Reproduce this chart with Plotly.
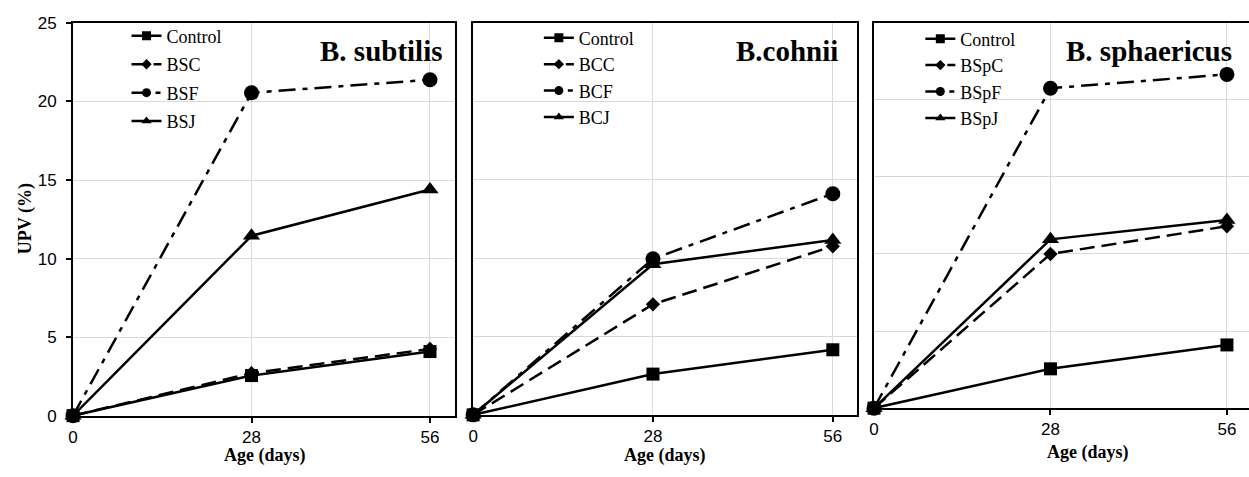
import plotly.graph_objects as go

# Age of specimens (days)
ages = [0, 28, 56]

panel_titles = ["B. subtilis", "B.cohnii", "B. sphaericus"]
series_names = [
    ["Control", "BSC", "BSF", "BSJ"],
    ["Control", "BCC", "BCF", "BCJ"],
    ["Control", "BSpC", "BSpF", "BSpJ"],
]

# UPV (%) for each mix
subtilis_control = [0, 2.55, 4.08]
subtilis_c = [0, 2.7, 4.25]
subtilis_f = [0, 20.55, 21.38]
subtilis_j = [0, 11.45, 14.4]

cohnii_control = [0, 2.6, 4.15]
cohnii_c = [0, 7.05, 10.75]
cohnii_f = [0, 9.95, 14.1]
cohnii_j = [0, 9.6, 11.15]

sphaericus_control = [0, 2.55, 4.1]
sphaericus_c = [0, 10.0, 11.8]
sphaericus_f = [0, 20.75, 21.65]
sphaericus_j = [0, 10.95, 12.2]

panel_values = [
    [subtilis_control, subtilis_c, subtilis_f, subtilis_j],
    [cohnii_control, cohnii_c, cohnii_f, cohnii_j],
    [sphaericus_control, sphaericus_c, sphaericus_f, sphaericus_j],
]

W, H = 1249, 477
SERIF = "Liberation Serif, Times New Roman, serif"
SANS = "Liberation Sans, Arial, sans-serif"

# line style per series position: (dash, marker symbol, plot marker size, legend marker size)
styles = [
    ("solid", "square", 13, 9),
    ("15px,7px", "diamond", 11, 8),
    ("17px,7px,5px,7px", "circle", 15, 9),
    ("solid", "triangle-up", 15, 9),
]

# panel geometry in pixels: (left, right, top, bottom, x max)
panels = [
    (68.3, 452.3, 14.5, 423.5, 60.0),
    (470.0, 855.0, 14.3, 422.7, 59.7),
    (872.5, 1249.0, 14.3, 415.7, 59.5),
]
legend_pos = [(122, 9), (536, 11), (919, 12)]
legend_gap = [2, 0, 0]
title_right = [442, 838, 1234]
xtitle_center = [(261, 465), (663, 465), (1087, 462)]

fig = go.Figure()

for p in range(3):
    ax = "" if p == 0 else str(p + 1)
    leg = "legend" if p == 0 else f"legend{p + 1}"
    for s in range(4):
        dash, sym, size, lsize = styles[s]
        # data line
        fig.add_trace(go.Scatter(
            x=ages, y=panel_values[p][s], name=series_names[p][s],
            mode="lines+markers",
            line=dict(color="black", width=2.5, dash=dash),
            marker=dict(symbol=sym, size=size, color="black"),
            xaxis="x" + ax, yaxis="y" + ax,
            legendgroup=f"g{p}{s}", showlegend=False, cliponaxis=False,
        ))
        # legend key with a smaller marker
        fig.add_trace(go.Scatter(
            x=[None], y=[None], name=series_names[p][s],
            mode="lines+markers",
            line=dict(color="black", width=2.5, dash=dash),
            marker=dict(symbol=sym, size=lsize, color="black"),
            xaxis="x" + ax, yaxis="y" + ax, legend=leg,
            legendgroup=f"g{p}{s}", showlegend=True,
        ))

layout = dict(
    width=W, height=H,
    margin=dict(l=0, r=0, t=0, b=0),
    plot_bgcolor="white", paper_bgcolor="white",
    showlegend=True,
)

annotations = []
for p, (l, r, t, b, xmax) in enumerate(panels):
    ax = "" if p == 0 else str(p + 1)
    layout["xaxis" + ax] = dict(
        domain=[l / W, r / W], range=[0, xmax], anchor="y" + ax,
        tickvals=ages, ticktext=[str(a) for a in ages],
        ticks="outside", ticklen=5, tickwidth=1.5, tickcolor="black",
        tickfont=dict(family=SANS, size=17, color="black"),
        showgrid=True, gridcolor="#d9d9d9", gridwidth=1.3,
        showline=True, linecolor="black", linewidth=1.8, mirror=True,
        zeroline=False, fixedrange=True,
    )
    layout["yaxis" + ax] = dict(
        domain=[1 - b / H, 1 - t / H], range=[0, 25], anchor="x" + ax,
        tickvals=[0, 5, 10, 15, 20, 25],
        showticklabels=(p == 0),
        ticks="outside" if p == 0 else "", ticklen=5, tickwidth=1.5, tickcolor="black",
        tickfont=dict(family=SANS, size=17, color="black"),
        ticklabelstandoff=6,
        showgrid=True, gridcolor="#d9d9d9", gridwidth=1.3,
        showline=True, linecolor="black", linewidth=1.8, mirror=(p < 2),
        zeroline=False, fixedrange=True,
    )
    leg = "legend" if p == 0 else f"legend{p + 1}"
    lx, ly = legend_pos[p]
    layout[leg] = dict(
        x=lx / W, y=1 - ly / H, xanchor="left", yanchor="top",
        font=dict(family=SERIF, size=18, color="black"),
        bgcolor="rgba(0,0,0,0)", borderwidth=0,
        traceorder="grouped", tracegroupgap=legend_gap[p],
        itemsizing="trace",
    )
    annotations.append(dict(
        text=f"<b>{panel_titles[p]}</b>", xref="paper", yref="paper",
        x=title_right[p] / W, y=1 - 44 / H, xanchor="right", yanchor="middle",
        showarrow=False, font=dict(family=SERIF, size=29, color="black"),
    ))
    cx, cy = xtitle_center[p]
    annotations.append(dict(
        text="<b>Age (days)</b>", xref="paper", yref="paper",
        x=cx / W, y=1 - cy / H, xanchor="center", yanchor="middle",
        showarrow=False, font=dict(family=SERIF, size=18, color="black"),
    ))

annotations.append(dict(
    text="<b>UPV (%)</b>", xref="paper", yref="paper",
    x=20 / W, y=1 - 218 / H, xanchor="center", yanchor="middle",
    textangle=-90, showarrow=False,
    font=dict(family=SERIF, size=18, color="black"),
))
layout["annotations"] = annotations

fig.update_layout(**layout)
fig.write_html("out.html")
